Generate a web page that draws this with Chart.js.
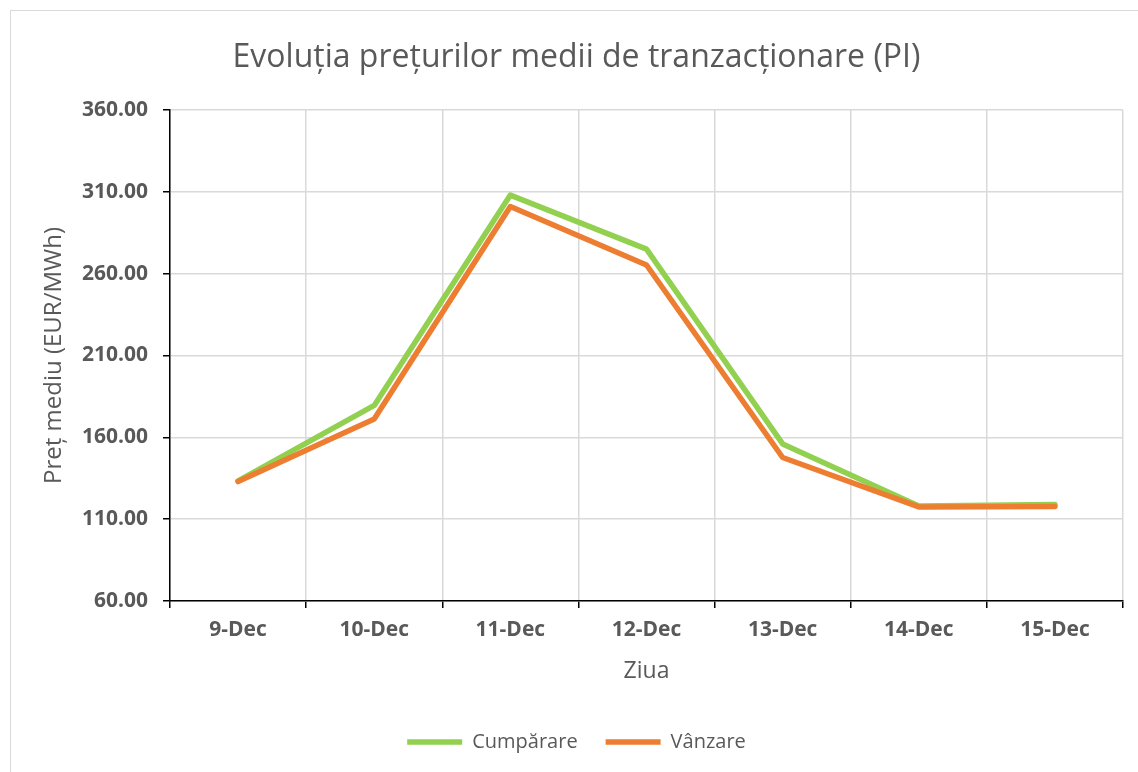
<!DOCTYPE html>
<html>
<head>
<meta charset="utf-8">
<script src="https://cdn.jsdelivr.net/npm/chart.js@4/dist/chart.umd.min.js"></script>
<style>
  body { margin: 0; background: #fff; }
  #frame { position: absolute; left: 10px; top: 10px; width: 1200px; height: 800px; border: 1px solid #d9d9d9; }
  #wrap { position: absolute; left: 0; top: 0; width: 1138px; height: 772px; }
</style>
</head>
<body>
<div id="frame"></div>
<div id="wrap"><canvas id="chart" width="1138" height="772"></canvas></div>
<script>
const zile = ['9-Dec', '10-Dec', '11-Dec', '12-Dec', '13-Dec', '14-Dec', '15-Dec'];
const cumparare = [133.4, 179.5, 308, 275, 156, 118, 119];
const vanzare = [133, 171.2, 301, 265.3, 147.7, 117.5, 117.8];
const yTicks = [60, 110, 160, 210, 260, 310, 360];

const gri = '#595959';
const font = 'Open Sans';

const ctx = document.getElementById('chart').getContext('2d');
new Chart(ctx, {
  type: 'line',
  data: {
    labels: zile,
    datasets: [
      {
        label: 'Cumpărare',
        data: cumparare,
        borderColor: '#92D050',
        backgroundColor: '#92D050',
        borderWidth: 5.5,
        borderCapStyle: 'round',
        borderJoinStyle: 'round',
        pointRadius: 0,
        tension: 0,
        order: 1
      },
      {
        label: 'Vânzare',
        data: vanzare,
        borderColor: '#ED7D31',
        backgroundColor: '#ED7D31',
        borderWidth: 5.5,
        borderCapStyle: 'round',
        borderJoinStyle: 'round',
        pointRadius: 0,
        tension: 0,
        order: 0
      }
    ]
  },
  options: {
    responsive: false,
    animation: false,
    layout: { padding: { left: 30, right: 15, top: 0, bottom: 10 } },
    plugins: {
      title: {
        display: true,
        text: 'Evoluția prețurilor medii de tranzacționare (PI)',
        color: gri,
        font: { family: font, size: 32, weight: 'normal' },
        padding: { top: 39, bottom: 32.6 }
      },
      legend: {
        position: 'bottom',
        labels: {
          usePointStyle: true,
          pointStyle: 'line',
          pointStyleWidth: 55,
          color: gri,
          font: { family: font, size: 20 },
          padding: 28,
          sort: (a, b) => a.datasetIndex - b.datasetIndex
        }
      },
      tooltip: { enabled: false }
    },
    scales: {
      x: {
        offset: true,
        grid: { offset: true, color: '#d9d9d9', lineWidth: 1.5, tickColor: '#000', tickLength: 7, tickWidth: 1.5 },
        border: { color: '#000', width: 1.5 },
        ticks: { color: gri, font: { family: font, size: 21, weight: 'bold' }, padding: 9, maxRotation: 0 },
        title: { display: true, text: 'Ziua', color: gri, font: { family: font, size: 23 }, padding: { top: 4, bottom: 19 } },
        afterFit: s => { s.height = 103; }
      },
      y: {
        min: 60,
        max: 360,
        afterBuildTicks: s => { s.ticks = yTicks.map(v => ({ value: v })); },
        grid: { color: '#d9d9d9', lineWidth: 1.5, tickColor: '#000', tickLength: 7, tickWidth: 1.5 },
        border: { color: '#000', width: 1.5 },
        ticks: { color: gri, font: { family: font, size: 21, weight: 'bold' }, padding: 15, callback: v => v.toFixed(2) },
        title: { display: true, text: 'Preț mediu (EUR/MWh)', color: gri, font: { family: font, size: 24 }, padding: { top: 10, bottom: 4 } },
        afterFit: s => { s.width = 140; }
      }
    }
  }
});
</script>
</body>
</html>
